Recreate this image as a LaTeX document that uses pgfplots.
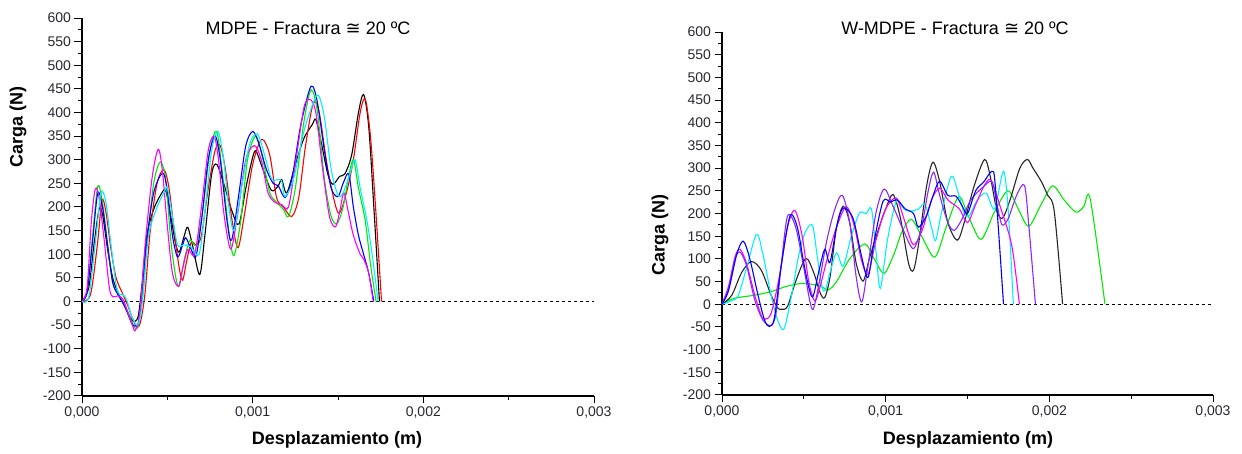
\documentclass[border=0pt]{standalone}
\usepackage{pgfplots}
\pgfplotsset{compat=1.18}
\usepackage{fontspec}
\setmainfont{Liberation Sans}
\newfontfamily\dejavu{DejaVu Sans}
\definecolor{tickgray}{RGB}{40,40,50}
\definecolor{cgreen}{RGB}{0,235,0}
\definecolor{cpurple}{RGB}{140,40,255}
\definecolor{ccyan}{RGB}{0,240,255}
\definecolor{cmag}{RGB}{255,0,255}
\definecolor{cred}{RGB}{255,0,0}
\definecolor{cblue}{RGB}{0,0,255}

\pgfplotsset{
  panel/.style={
    scale only axis,
    axis lines*=left,
    axis line style={line width=1.6pt},
    xmin=0, xmax=3, ymin=-200, ymax=600,
    xtick={0,1,2,3},
    minor xtick={0.5,1.5,2.5},
    xticklabels={{0,000},{0,001},{0,002},{0,003}},
    ytick={-200,-150,...,600},
    minor y tick num=1,
    tick align=outside,
    major tick length=7.5pt,
    minor tick length=4pt,
    every tick/.style={black, line width=1pt},
    /pgf/number format/assume math mode=true,
    ticklabel style={font=\fontsize{14}{14}\selectfont, text=tickgray},
    clip=false,
  },
  cur/.style={line width=1.1pt, smooth, no markers},
}

\begin{document}
\begin{tikzpicture}[x=1pt,y=1pt]
\useasboundingbox (0,0) rectangle (1242,454);

% ---------- MDPE ----------
\begin{axis}[panel, at={(82pt,58pt)}, anchor=south west, width=512pt, height=378pt]
\addplot[black, dashed, line width=0.8pt] coordinates {(0,0) (3,0)};
% black
\addplot[cur, black] coordinates {(0,0) (0.04,30) (0.07,120) (0.1,195) (0.12,185) (0.15,110) (0.18,50) (0.21,20) (0.25,-10) (0.29,-38) (0.31,-42) (0.33,-30) (0.35,30) (0.38,140) (0.42,195) (0.46,225) (0.49,235) (0.52,180) (0.55,120) (0.57,105) (0.6,140) (0.62,157) (0.65,115) (0.69,57) (0.72,140) (0.76,270) (0.79,290) (0.83,250) (0.88,190) (0.92,164) (0.96,240) (1.0,305) (1.02,318) (1.06,280) (1.11,235) (1.15,245) (1.17,258) (1.2,230) (1.25,290) (1.3,345) (1.35,375) (1.37,385) (1.4,340) (1.44,270) (1.47,248) (1.51,265) (1.54,270) (1.58,310) (1.62,400) (1.65,438) (1.68,370) (1.71,200) (1.743,0)};
% red
\addplot[cur, cred] coordinates {(0,0) (0.05,15) (0.09,120) (0.117,214) (0.14,190) (0.17,110) (0.2,50) (0.24,15) (0.27,-10) (0.3,-40) (0.325,-55) (0.345,-40) (0.37,20) (0.4,150) (0.44,250) (0.48,279) (0.51,240) (0.54,150) (0.57,70) (0.59,45) (0.61,80) (0.64,125) (0.67,120) (0.7,140) (0.74,240) (0.78,320) (0.81,330) (0.84,280) (0.88,170) (0.914,114) (0.95,180) (1.0,290) (1.053,343) (1.1,310) (1.14,220) (1.18,200) (1.229,180) (1.27,220) (1.31,330) (1.355,419) (1.39,400) (1.44,280) (1.5,188) (1.547,227) (1.59,300) (1.63,400) (1.66,428) (1.69,350) (1.72,200) (1.755,0)};
% green
\addplot[cur, cgreen] coordinates {(0,0) (0.03,20) (0.06,130) (0.092,243) (0.12,210) (0.15,120) (0.18,40) (0.22,10) (0.26,-15) (0.3,-50) (0.315,-57) (0.33,-50) (0.35,0) (0.38,120) (0.42,250) (0.458,295) (0.49,260) (0.52,130) (0.55,50) (0.57,33) (0.6,90) (0.633,130) (0.67,120) (0.71,200) (0.75,320) (0.789,360) (0.82,280) (0.86,150) (0.89,97) (0.93,170) (0.97,300) (1.018,350) (1.06,300) (1.1,230) (1.14,210) (1.18,195) (1.21,180) (1.25,240) (1.3,380) (1.343,448) (1.38,400) (1.42,260) (1.46,180) (1.495,165) (1.53,200) (1.56,260) (1.59,300) (1.62,240) (1.66,170) (1.69,80) (1.723,0)};
% blue
\addplot[cur, cblue] coordinates {(0,0) (0.03,20) (0.06,120) (0.092,229) (0.12,200) (0.15,120) (0.18,40) (0.21,15) (0.25,-10) (0.29,-45) (0.31,-52) (0.33,-45) (0.345,0) (0.38,130) (0.42,230) (0.472,272) (0.5,235) (0.53,140) (0.56,94) (0.59,120) (0.608,135) (0.64,110) (0.667,95) (0.7,170) (0.74,300) (0.78,350) (0.81,300) (0.85,170) (0.877,130) (0.92,230) (0.96,330) (1.002,360) (1.04,330) (1.08,280) (1.12,250) (1.15,245) (1.19,220) (1.23,260) (1.28,370) (1.33,445) (1.353,455) (1.38,420) (1.42,320) (1.46,240) (1.5,222) (1.53,250) (1.563,270) (1.59,200) (1.62,140) (1.65,100) (1.68,60) (1.71,0)};
% magenta
\addplot[cur, cmag] coordinates {(0,0) (0.03,30) (0.055,170) (0.078,238) (0.1,220) (0.13,130) (0.16,30) (0.18,10) (0.21,12) (0.24,5) (0.27,-25) (0.3,-55) (0.31,-62) (0.33,-45) (0.345,0) (0.37,120) (0.41,260) (0.446,322) (0.47,280) (0.5,160) (0.53,60) (0.565,32) (0.59,70) (0.62,110) (0.66,100) (0.7,200) (0.74,320) (0.774,350) (0.8,300) (0.83,190) (0.871,111) (0.91,180) (0.96,300) (1.01,330) (1.05,300) (1.09,230) (1.13,210) (1.17,205) (1.21,200) (1.25,290) (1.3,410) (1.335,428) (1.37,400) (1.41,280) (1.45,180) (1.485,158) (1.51,190) (1.534,230) (1.56,190) (1.59,140) (1.63,100) (1.65,90) (1.68,60) (1.706,0)};
% cyan
\addplot[cur, ccyan] coordinates {(0,0) (0.04,10) (0.08,130) (0.111,230) (0.14,210) (0.17,120) (0.2,35) (0.22,15) (0.238,15) (0.26,5) (0.29,-30) (0.32,-50) (0.34,-35) (0.36,20) (0.39,140) (0.44,200) (0.48,230) (0.5,240) (0.53,180) (0.56,120) (0.6,120) (0.64,115) (0.686,100) (0.72,190) (0.76,320) (0.797,360) (0.83,300) (0.86,200) (0.89,150) (0.93,230) (0.98,330) (1.027,355) (1.07,310) (1.11,260) (1.15,258) (1.17,255) (1.19,222) (1.24,260) (1.3,360) (1.36,425) (1.388,435) (1.42,390) (1.46,280) (1.5,225) (1.53,230) (1.57,270) (1.6,300) (1.63,240) (1.67,170) (1.7,100) (1.735,0)};
\end{axis}

% ---------- W-MDPE ----------
\begin{axis}[panel, at={(722pt,59pt)}, anchor=south west, width=491pt, height=363pt]
\addplot[black, dashed, line width=0.8pt] coordinates {(0,0) (3,0)};
% green
\addplot[cur, cgreen] coordinates {(0,0) (0.05,10) (0.1,15) (0.2,20) (0.3,28) (0.4,40) (0.5,46) (0.6,40) (0.65,32) (0.7,50) (0.78,100) (0.872,133) (0.93,100) (0.99,68) (1.05,110) (1.1,160) (1.157,187) (1.22,150) (1.3,104) (1.37,170) (1.447,237) (1.51,190) (1.583,143) (1.66,200) (1.746,250) (1.81,210) (1.874,172) (1.95,220) (2.02,261) (2.09,230) (2.163,203) (2.21,215) (2.25,232) (2.34,0)};
% black
\addplot[cur, black!85] coordinates {(0,0) (0.06,20) (0.12,70) (0.18,94) (0.24,75) (0.3,20) (0.34,-8) (0.364,-11) (0.4,-5) (0.45,50) (0.512,101) (0.56,70) (0.6,25) (0.628,15) (0.66,60) (0.7,170) (0.74,216) (0.78,180) (0.82,90) (0.862,51) (0.9,100) (0.96,170) (1.0,210) (1.045,242) (1.09,190) (1.14,90) (1.17,75) (1.2,130) (1.25,260) (1.289,313) (1.33,270) (1.38,180) (1.437,141) (1.48,180) (1.54,260) (1.604,319) (1.64,280) (1.68,205) (1.715,190) (1.76,230) (1.82,300) (1.866,319) (1.9,300) (1.95,271) (1.99,240) (2.03,205) (2.081,0)};
% cyan
\addplot[cur, ccyan] coordinates {(0,0) (0.06,8) (0.1,20) (0.15,80) (0.211,154) (0.25,110) (0.3,20) (0.34,-35) (0.378,-55) (0.42,10) (0.47,110) (0.51,160) (0.553,174) (0.58,110) (0.61,40) (0.63,30) (0.66,70) (0.7,113) (0.74,84) (0.79,150) (0.84,201) (0.88,200) (0.913,210) (0.94,120) (0.967,35) (1.01,140) (1.065,227) (1.11,210) (1.15,205) (1.2,210) (1.24,220) (1.28,170) (1.305,140) (1.34,200) (1.4,282) (1.44,250) (1.48,200) (1.51,195) (1.56,230) (1.614,245) (1.665,210) (1.72,293) (1.75,200) (1.78,0)};
% magenta
\addplot[cur, cmag] coordinates {(0,0) (0.04,40) (0.08,105) (0.11,121) (0.15,90) (0.2,20) (0.24,-25) (0.262,-33) (0.3,-20) (0.35,60) (0.4,170) (0.445,207) (0.49,150) (0.53,50) (0.567,7) (0.6,40) (0.65,110) (0.7,170) (0.76,215) (0.81,170) (0.85,100) (0.892,66) (0.94,140) (1.0,210) (1.065,234) (1.11,190) (1.167,132) (1.22,160) (1.28,230) (1.33,256) (1.38,230) (1.45,210) (1.5,180) (1.55,220) (1.6,260) (1.634,275) (1.66,260) (1.7,215) (1.77,130) (1.817,0)};
% purple
\addplot[cur, cpurple] coordinates {(0,0) (0.04,35) (0.08,100) (0.11,115) (0.15,85) (0.2,10) (0.25,-35) (0.3,-47) (0.33,-20) (0.36,80) (0.4,194) (0.45,170) (0.5,80) (0.535,10) (0.557,-11) (0.59,40) (0.64,140) (0.69,210) (0.735,240) (0.78,180) (0.82,60) (0.854,5) (0.89,80) (0.94,200) (0.99,254) (1.04,220) (1.1,170) (1.15,130) (1.177,125) (1.22,170) (1.26,250) (1.293,291) (1.33,240) (1.38,180) (1.42,163) (1.47,190) (1.52,230) (1.6,260) (1.65,270) (1.68,220) (1.711,175) (1.75,190) (1.8,240) (1.848,262) (1.875,172) (1.915,0)};
% blue
\addplot[cur, cblue] coordinates {(0,0) (0.04,30) (0.09,110) (0.13,139) (0.17,100) (0.22,20) (0.26,-35) (0.289,-49) (0.32,-30) (0.36,80) (0.415,194) (0.46,170) (0.5,90) (0.535,30) (0.557,18) (0.59,70) (0.628,121) (0.659,92) (0.7,170) (0.74,212) (0.8,190) (0.85,110) (0.892,59) (0.93,140) (0.984,227) (1.03,225) (1.07,230) (1.12,210) (1.17,200) (1.2,170) (1.248,194) (1.29,240) (1.33,271) (1.38,240) (1.43,238) (1.47,215) (1.5,200) (1.55,250) (1.6,270) (1.65,293) (1.67,260) (1.72,0)};
\end{axis}

% titles and axis labels
\node[font=\fontsize{18}{18}\selectfont] at (308,426) {MDPE - Fractura {\dejavu ≅} 20 ºC};
\node[font=\fontsize{18}{18}\selectfont] at (955,426) {W-MDPE - Fractura {\dejavu ≅} 20 ºC};
\node[font=\fontsize{18}{18}\bfseries, rotate=90] at (18,327) {Carga (N)};
\node[font=\fontsize{18}{18}\bfseries, rotate=90] at (660,219) {Carga (N)};
\node[font=\fontsize{18}{18}\bfseries] at (337,14) {Desplazamiento (m)};
\node[font=\fontsize{18}{18}\bfseries] at (968,14) {Desplazamiento (m)};
\end{tikzpicture}
\end{document}
